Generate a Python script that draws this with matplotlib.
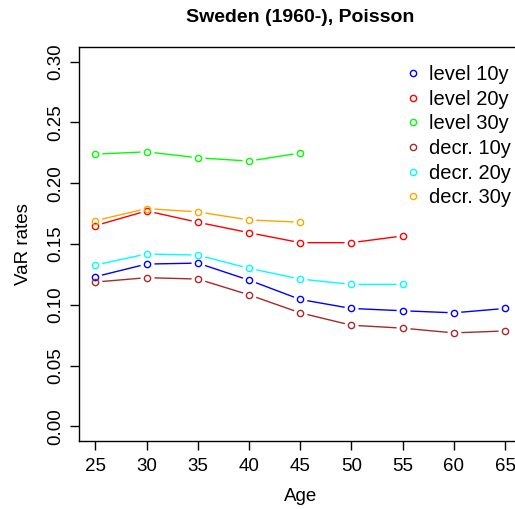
import matplotlib
matplotlib.use("Agg")
import matplotlib.pyplot as plt

plt.rcParams['font.family'] = ['Liberation Sans', 'DejaVu Sans']

ages = [25, 30, 35, 40, 45, 50, 55, 60, 65]

level_10y = [0.1231, 0.1335, 0.1343, 0.1203, 0.1044, 0.0970, 0.0951, 0.0934, 0.0970]
level_20y = [0.1651, 0.1772, 0.1679, 0.1593, 0.1511, 0.1511, 0.1566]
level_30y = [0.2239, 0.2258, 0.2209, 0.2182, 0.2248]
decr_10y = [0.1187, 0.1223, 0.1212, 0.1082, 0.0934, 0.0832, 0.0808, 0.0769, 0.0785]
decr_20y = [0.1327, 0.1418, 0.1409, 0.1300, 0.1212, 0.1168, 0.1168]
decr_30y = [0.1692, 0.1791, 0.1764, 0.1698, 0.1679]

series = [
    ("level 10y", level_10y, "#0000ff"),
    ("level 20y", level_20y, "#ff0000"),
    ("level 30y", level_30y, "#00ff00"),
    ("decr. 10y", decr_10y, "#a52a2a"),
    ("decr. 20y", decr_20y, "#00ffff"),
    ("decr. 30y", decr_30y, "#ffa500"),
]

fig = plt.figure(figsize=(5.15, 5.09), dpi=100)
ax = fig.add_axes([79 / 515, 68 / 509, 442.4 / 515, 394 / 509])

# R type="b": line with small gaps around the open circles
for label, vals, col in series:
    x = ages[:len(vals)]
    ax.plot(x, vals, color=col, lw=1, zorder=2)
for label, vals, col in series:
    x = ages[:len(vals)]
    ax.plot(x, vals, 'o', ms=9, mfc='white', mec='white', zorder=3)
for label, vals, col in series:
    x = ages[:len(vals)]
    ax.plot(x, vals, 'o', ms=4.5, mfc='none', mec=col, mew=1, zorder=4, label=label)

ax.set_xlim(23.4, 66.6)
ax.set_ylim(-0.012, 0.312)
ax.set_xticks(ages)
ax.set_yticks([0.0, 0.05, 0.10, 0.15, 0.20, 0.25, 0.30])
ax.set_yticklabels(["0.00", "0.05", "0.10", "0.15", "0.20", "0.25", "0.30"],
                   rotation=90, va='center')
ax.tick_params(axis='both', labelsize=13.5, length=6.5, width=1, direction='out')
ax.tick_params(axis='x', pad=6)
ax.tick_params(axis='y', pad=4)
for sp in ax.spines.values():
    sp.set_linewidth(1)

ax.set_xlabel("Age", fontsize=13.5, labelpad=9)
ax.set_ylabel("VaR rates", fontsize=13.5, labelpad=11)
fig.text(0.5 * (79 + 521.4) / 515, 1 - 17 / 509, "Sweden (1960-), Poisson",
         ha='center', va='center', fontsize=14, fontweight='bold')

ax.legend(loc='upper left', bbox_to_anchor=((399 - 79) / 442.4, 1 - 10 / 394),
          frameon=False, fontsize=14.5, handlelength=0.6, handletextpad=0.5,
          labelspacing=0.28, borderaxespad=0)

fig.savefig("out.png", dpi=100)
